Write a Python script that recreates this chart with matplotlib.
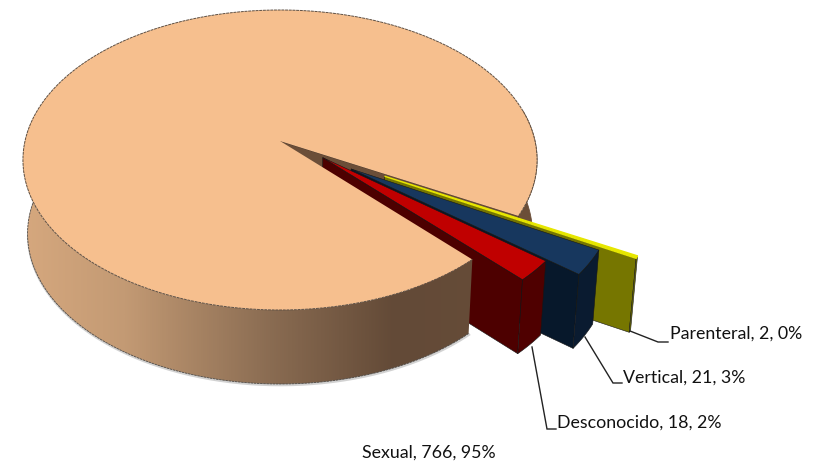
import numpy as np
import matplotlib
matplotlib.use("Agg")
import matplotlib.pyplot as plt
from matplotlib.colors import LinearSegmentedColormap
from matplotlib.patches import Polygon

# ---- data ----
categories = ["Parenteral", "Vertical", "Desconocido", "Sexual"]
values = [2, 21, 18, 766]
percent_labels = ["0%", "3%", "2%", "95%"]

# ---- style ----
top_colors = ["#E6E600", "#17375E", "#C00000", "#F6BF8E"]
rim_colors = ["#767600", "#0A1B30", "#4F0000", "#6B4E38"]
side_colors = ["#767600", "#07182B", "#4D0000", "#6B4E38"]
explode = [0.46, 0.329, 0.199, 0.0]
explode_turn = [1.25, 0.1, -8.9, 0.0]
START = 28.5

# projection of the unit disc on to the page, in pixels
CX, CY, A, B, K, H, M = 280.0, 141.0, 255.0, 147.6, 0.1266, 74.0, 0.018


def proj(u, v, z=0.0):
    u, v = np.asarray(u, float), np.asarray(v, float)
    w = 1 - K * v
    return np.column_stack([CX + A * u / (w + M * z),
                            CY + B * v / w + H * z])


def arc(a0, a1, d=(0.0, 0.0), n=240):
    t = np.radians(np.linspace(a0, a1, n))
    return np.cos(t) + d[0], np.sin(t) + d[1]


def wall(a0, a1, d=(0.0, 0.0)):
    u, v = arc(a0, a1, d)
    return np.vstack([proj(u, v), proj(u[::-1], v[::-1], 1.0)])


plt.rcParams["font.family"] = ["Lato", "DejaVu Sans"]
fig = plt.figure(figsize=(8.25, 4.65), dpi=100)
ax = fig.add_axes([0, 0, 1, 1])
ax.set_axis_off()

sweeps = 360 * np.array(values) / np.sum(values)
starts = START + np.concatenate([[0], np.cumsum(sweeps)[:-1]])
ends = starts + sweeps
sx_start = ends[2]            # lower cut edge of the main slice
sx_stop = ends[3]             # upper cut edge, one full turn on

cmap = LinearSegmentedColormap.from_list(
    "rim", [(0.0, "#D6A87E"), (0.2, "#C39A74"), (0.48, "#8A6C52"),
            (0.72, "#634A37"), (0.9, "#664C38"), (1.0, "#6B4E38")])

# soft shadow under the rim
ax.plot(*(proj(*arc(sx_start, 172), z=1.0) + [0.5, 1.2]).T, color="#D2D2D2", lw=1.6, zorder=0.5)

# back of the main slice: cut face and right-hand rim
cu, cv = np.cos(np.radians(START)), np.sin(np.radians(START))
cut = np.vstack([proj([0, cu], [0, cv]), proj([cu, 0], [cv, 0], 1.0)])
ax.add_patch(Polygon(wall(-12, START), closed=True, fc=rim_colors[3], ec=rim_colors[3], lw=0.6, zorder=1))
ax.add_patch(Polygon(cut, closed=True, fc=side_colors[3], ec="#4A3526", lw=0.6, zorder=1.1))

# sides of the exploded slices, back to front
tops = []
for i in range(3):
    mid = np.radians(0.5 * (starts[i] + ends[i]) + explode_turn[i])
    d = (explode[i] * np.cos(mid), explode[i] * np.sin(mid))
    u, v = arc(starts[i], ends[i], d, 30)
    z = 2 + i
    radial = np.vstack([proj([d[0], u[-1]], [d[1], v[-1]]),
                        proj([u[-1], d[0]], [v[-1], d[1]], 1.0)])
    ax.add_patch(Polygon(radial, closed=True, fc=side_colors[i], ec="#161616", lw=0.4, zorder=z))
    ax.add_patch(Polygon(wall(starts[i], ends[i], d), closed=True,
                         fc=rim_colors[i], ec="#161616", lw=0.4, zorder=z + 0.1))
    tops.append(np.vstack([proj([d[0]], [d[1]]), proj(u, v)]))

# front rim of the main slice with its left to right shading
front = Polygon(wall(sx_start, 190), closed=True, fc="none", ec="none", zorder=6)
ax.add_patch(front)
grad = np.linspace(0, 1, 512).reshape(1, -1)
im = ax.imshow(grad, extent=(20.0, 540.0, 400, 100), cmap=cmap, aspect="auto", zorder=6)
im.set_clip_path(front)
ax.plot(*proj(*arc(sx_start, 190), z=1.0).T, color="#4E4A46", lw=0.6, ls=(0, (3, 0.8)), zorder=6.1)

# top face of the main slice
u, v = arc(sx_start, sx_stop, n=720)
ax.add_patch(Polygon(np.vstack([[[CX, CY]], proj(u, v)]), closed=True,
                     fc=top_colors[3], ec="none", zorder=7))
ax.plot(*proj(u, v).T, color="#5E5044", lw=0.7, ls=(0, (3, 0.8)), zorder=7.1)

# tops of the exploded slices
for i in range(3):
    ax.add_patch(Polygon(tops[i], closed=True, fc=top_colors[i],
                         ec="#E6E600" if i == 0 else "#161616",
                         lw=1.0 if i == 0 else 0.4, zorder=8 + i))

# labels and leader lines
label_xy = [(670, 334), (623, 378), (557, 423), (362, 453)]
leaders = [[(630, 331), (658, 342), (668, 342)],
           [(585, 337), (613, 383), (622, 383)],
           [(532, 347), (547, 429), (556, 429)],
           None]
for name, val, pct, xy, ln in zip(categories, values, percent_labels, label_xy, leaders):
    ax.text(xy[0], xy[1], f"{name}, {val}, {pct}", fontsize=12.8, color="#111111",
            va="center", ha="left", zorder=12)
    if ln:
        ax.plot(*zip(*ln), color="#222222", lw=1.0, zorder=11, solid_joinstyle="miter")

ax.set_xlim(0, 825)
ax.set_ylim(465, 0)
fig.savefig("out.png", dpi=100, facecolor="white")
